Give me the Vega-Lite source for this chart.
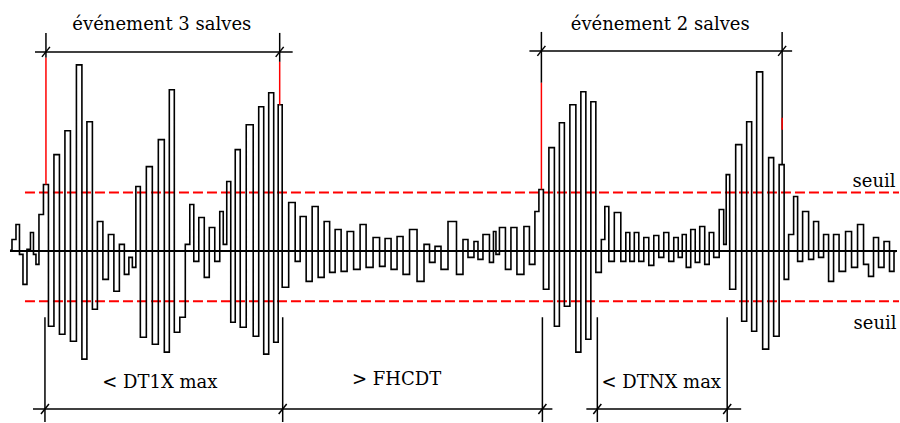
{
  "$schema": "https://vega.github.io/schema/vega-lite/v6.json",
  "width": 900,
  "height": 423,
  "autosize": {"type": "fit", "contains": "padding"},
  "padding": 0,
  "background": "white",
  "config": {"view": {"stroke": null}, "text": {"font": "DejaVu Serif"}},
  "datasets": {
    "wave": [
      {"x":10,"y":251},{"x":14,"y":240},{"x":18,"y":225},{"x":21,"y":255},{"x":25,"y":285},{"x":29,"y":250},{"x":32,"y":233},{"x":35,"y":255},{"x":37,"y":265},{"x":41,"y":215},
      {"x":46,"y":185},{"x":51,"y":327},{"x":57,"y":155},{"x":62,"y":335},{"x":68,"y":131},{"x":73,"y":342},{"x":80,"y":65},{"x":84,"y":360},{"x":90,"y":122},{"x":95,"y":310},{"x":100,"y":222},
      {"x":106,"y":280},{"x":111,"y":235},{"x":117,"y":292},{"x":122,"y":245},{"x":127,"y":275},{"x":131,"y":258},{"x":134,"y":268},
      {"x":138,"y":187},{"x":143,"y":338},{"x":150,"y":167},{"x":155,"y":345},{"x":162,"y":140},{"x":167,"y":353},{"x":172,"y":90},{"x":177,"y":333},{"x":183,"y":318},{"x":188,"y":245},{"x":192,"y":205},{"x":196,"y":262},{"x":202,"y":218},{"x":207,"y":278},{"x":212,"y":228},{"x":218,"y":262},{"x":222,"y":212},{"x":225,"y":245},{"x":229,"y":182},{"x":233,"y":323},{"x":238,"y":150},{"x":243,"y":328},{"x":250,"y":125},{"x":257,"y":337},{"x":261,"y":107},{"x":267,"y":355},{"x":271,"y":93},{"x":277,"y":343},{"x":280,"y":105},{"x":285,"y":288},{"x":293,"y":203},{"x":298,"y":262},
      {"x":303,"y":217},{"x":310,"y":282},{"x":315,"y":207},{"x":322,"y":278},{"x":327,"y":222},{"x":333,"y":273},{"x":338,"y":230},{"x":345,"y":272},{"x":350,"y":232},{"x":358,"y":270},{"x":363,"y":225},{"x":370,"y":268},{"x":377,"y":238},{"x":383,"y":267},{"x":388,"y":239},{"x":395,"y":270},{"x":400,"y":237},{"x":407,"y":275},{"x":413,"y":230},{"x":422,"y":282},{"x":427,"y":245},{"x":433,"y":263},{"x":438,"y":247},{"x":445,"y":270},{"x":452,"y":222},{"x":462,"y":275},{"x":465,"y":240},{"x":472,"y":258},{"x":477,"y":242},{"x":480,"y":260},{"x":487,"y":235},{"x":493,"y":263},{"x":495,"y":232},{"x":498,"y":255},{"x":502,"y":228},{"x":510,"y":270},{"x":513,"y":228},{"x":522,"y":275},{"x":527,"y":227},{"x":533,"y":265},{"x":538,"y":212},
      {"x":541,"y":190},{"x":547,"y":290},{"x":552,"y":148},{"x":558,"y":327},{"x":562,"y":123},{"x":568,"y":307},{"x":573,"y":105},{"x":580,"y":353},{"x":583,"y":92},{"x":590,"y":340},{"x":593,"y":102},{"x":600,"y":273},{"x":604,"y":240},{"x":607,"y":207},{"x":612,"y":262},{"x":618,"y":213},{"x":625,"y":262},{"x":628,"y":233},
      {"x":633,"y":262},{"x":637,"y":233},{"x":642,"y":262},{"x":647,"y":238},{"x":652,"y":266},{"x":657,"y":236},{"x":662,"y":258},{"x":667,"y":233},{"x":672,"y":262},{"x":677,"y":238},{"x":681,"y":258},{"x":685,"y":235},{"x":689,"y":268},{"x":694,"y":230},{"x":698,"y":263},{"x":703,"y":227},{"x":708,"y":265},{"x":712,"y":233},{"x":717,"y":258},
      {"x":723,"y":210},{"x":726,"y":245},{"x":728,"y":175},{"x":733,"y":290},{"x":740,"y":145},{"x":745,"y":322},{"x":750,"y":122},{"x":755,"y":332},{"x":760,"y":72},{"x":767,"y":350},{"x":772,"y":158},{"x":777,"y":337},{"x":783,"y":165},{"x":787,"y":280},{"x":792,"y":235},{"x":797,"y":197},{"x":800,"y":262},{"x":807,"y":212},{"x":812,"y":260},{"x":817,"y":222},{"x":822,"y":258},{"x":827,"y":235},
      {"x":832,"y":282},{"x":837,"y":235},{"x":843,"y":272},{"x":850,"y":232},{"x":855,"y":268},{"x":862,"y":225},{"x":867,"y":265},{"x":872,"y":277},{"x":877,"y":238},{"x":882,"y":268},{"x":888,"y":242},{"x":893,"y":272},{"x":897,"y":252}
    ],
    "rules": [
      {"kind":"dash","x":25,"y":193,"x2":900,"y2":193},
      {"kind":"dash","x":25,"y":302,"x2":900,"y2":302},
      {"kind":"base","x":10,"y":251.5,"x2":898,"y2":251.5},
      {"kind":"black","x":35,"y":52,"x2":293,"y2":52},
      {"kind":"black","x":530,"y":51,"x2":793,"y2":51},
      {"kind":"black","x":33,"y":410,"x2":553,"y2":410},
      {"kind":"black","x":587,"y":410,"x2":742,"y2":410},
      {"kind":"black","x":46,"y":33,"x2":46,"y2":58},
      {"kind":"black","x":280,"y":33,"x2":280,"y2":62},
      {"kind":"black","x":542,"y":32,"x2":542,"y2":83},
      {"kind":"black","x":783,"y":32,"x2":783,"y2":165},
      {"kind":"black","x":45,"y":318,"x2":45,"y2":423},
      {"kind":"black","x":283,"y":318,"x2":283,"y2":423},
      {"kind":"black","x":543,"y":318,"x2":543,"y2":423},
      {"kind":"black","x":598,"y":318,"x2":598,"y2":423},
      {"kind":"black","x":728,"y":318,"x2":728,"y2":423},
      {"kind":"black","x":42,"y":57,"x2":50,"y2":47},
      {"kind":"black","x":276,"y":57,"x2":284,"y2":47},
      {"kind":"black","x":538,"y":56,"x2":546,"y2":46},
      {"kind":"black","x":779,"y":56,"x2":787,"y2":46},
      {"kind":"black","x":41,"y":415,"x2":49,"y2":405},
      {"kind":"black","x":279,"y":415,"x2":287,"y2":405},
      {"kind":"black","x":539,"y":415,"x2":547,"y2":405},
      {"kind":"black","x":594,"y":415,"x2":602,"y2":405},
      {"kind":"black","x":724,"y":415,"x2":732,"y2":405},
      {"kind":"red","x":46,"y":58,"x2":46,"y2":185},
      {"kind":"red","x":280,"y":62,"x2":280,"y2":105},
      {"kind":"red","x":542,"y":83,"x2":542,"y2":190},
      {"kind":"red","x":783,"y":118,"x2":783,"y2":130}
    ],
    "labels": [
      {"text":"événement 3 salves","x":162,"y":25},
      {"text":"événement 2 salves","x":661,"y":25},
      {"text":"seuil","x":875,"y":182},
      {"text":"seuil","x":876,"y":325},
      {"text":"< DT1X max","x":160,"y":384},
      {"text":"> FHCDT","x":397,"y":381},
      {"text":"< DTNX max","x":662,"y":384}
    ]
  },
  "layer": [
    {
      "data": {"name": "rules"},
      "transform": [{"filter": "datum.kind == 'dash'"}],
      "mark": {"type": "rule", "color": "#ff0000", "strokeWidth": 2, "strokeDash": [10, 4]},
      "encoding": {
        "x": {"field": "x", "type": "quantitative", "scale": {"domain": [0, 900], "nice": false, "zero": false}, "axis": null},
        "y": {"field": "y", "type": "quantitative", "scale": {"domain": [0, 423], "nice": false, "zero": false, "reverse": true}, "axis": null},
        "x2": {"field": "x2"},
        "y2": {"field": "y2"}
      }
    },
    {
      "data": {"name": "wave"},
      "mark": {"type": "line", "color": "#000000", "strokeWidth": 1.6, "interpolate": "step"},
      "encoding": {
        "x": {"field": "x", "type": "quantitative", "scale": {"domain": [0, 900], "nice": false, "zero": false}, "axis": null},
        "y": {"field": "y", "type": "quantitative", "scale": {"domain": [0, 423], "nice": false, "zero": false, "reverse": true}, "axis": null}
      }
    },
    {
      "data": {"name": "rules"},
      "transform": [{"filter": "datum.kind == 'base'"}],
      "mark": {"type": "rule", "color": "#000000", "strokeWidth": 2},
      "encoding": {
        "x": {"field": "x", "type": "quantitative", "scale": {"domain": [0, 900], "nice": false, "zero": false}, "axis": null},
        "y": {"field": "y", "type": "quantitative", "scale": {"domain": [0, 423], "nice": false, "zero": false, "reverse": true}, "axis": null},
        "x2": {"field": "x2"},
        "y2": {"field": "y2"}
      }
    },
    {
      "data": {"name": "rules"},
      "transform": [{"filter": "datum.kind == 'black'"}],
      "mark": {"type": "rule", "color": "#000000", "strokeWidth": 1.5},
      "encoding": {
        "x": {"field": "x", "type": "quantitative", "scale": {"domain": [0, 900], "nice": false, "zero": false}, "axis": null},
        "y": {"field": "y", "type": "quantitative", "scale": {"domain": [0, 423], "nice": false, "zero": false, "reverse": true}, "axis": null},
        "x2": {"field": "x2"},
        "y2": {"field": "y2"}
      }
    },
    {
      "data": {"name": "rules"},
      "transform": [{"filter": "datum.kind == 'red'"}],
      "mark": {"type": "rule", "color": "#ff0000", "strokeWidth": 1.5},
      "encoding": {
        "x": {"field": "x", "type": "quantitative", "scale": {"domain": [0, 900], "nice": false, "zero": false}, "axis": null},
        "y": {"field": "y", "type": "quantitative", "scale": {"domain": [0, 423], "nice": false, "zero": false, "reverse": true}, "axis": null},
        "x2": {"field": "x2"},
        "y2": {"field": "y2"}
      }
    },
    {
      "data": {"name": "labels"},
      "mark": {"type": "text", "font": "DejaVu Serif", "fontSize": 18, "color": "#000000", "align": "center", "baseline": "middle"},
      "encoding": {
        "x": {"field": "x", "type": "quantitative", "scale": {"domain": [0, 900], "nice": false, "zero": false}, "axis": null},
        "y": {"field": "y", "type": "quantitative", "scale": {"domain": [0, 423], "nice": false, "zero": false, "reverse": true}, "axis": null},
        "text": {"field": "text", "type": "nominal"}
      }
    }
  ]
}
